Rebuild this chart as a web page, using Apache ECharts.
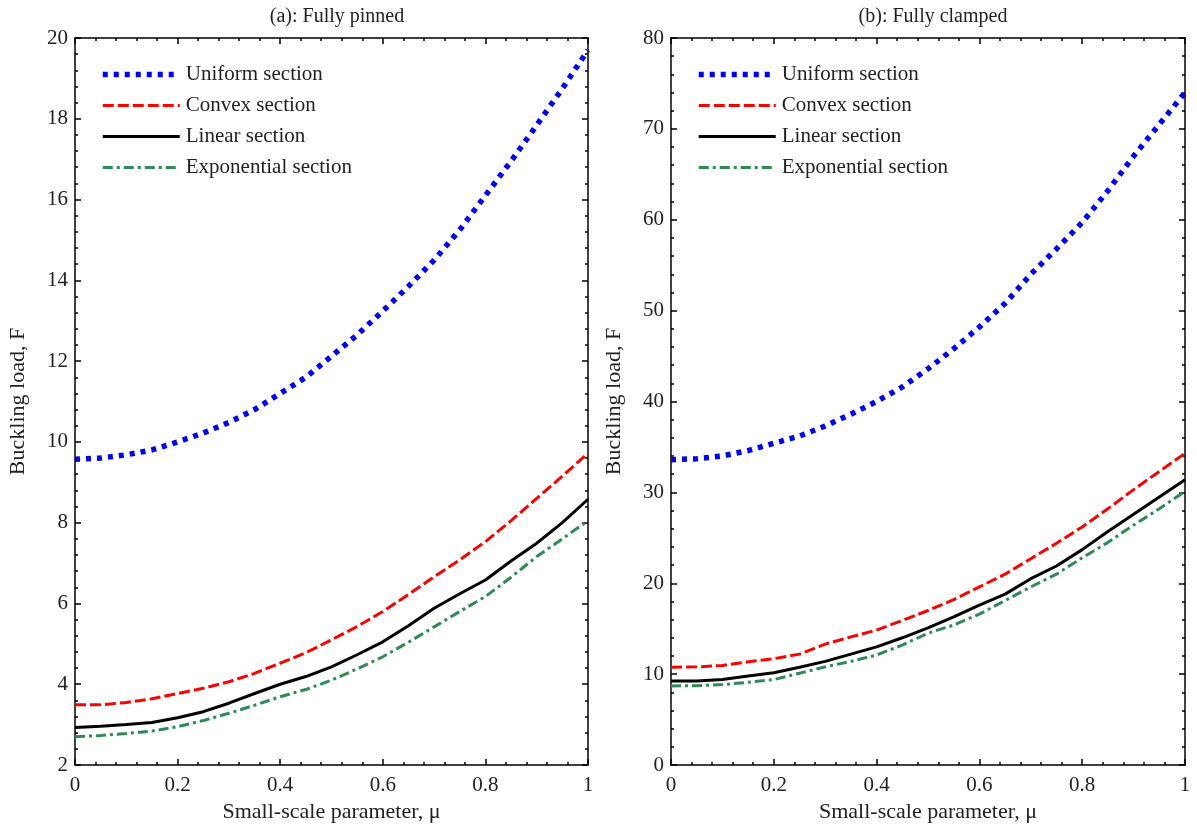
<!DOCTYPE html>
<html>
<head>
<meta charset="utf-8">
<script src="https://cdn.jsdelivr.net/npm/echarts@6/dist/echarts.min.js"></script>
<style>html,body{margin:0;padding:0;background:#fff}#c{width:1197px;height:832px}</style>
</head>
<body>
<div id="c"></div>
<script>
const mu = [0,0.05,0.1,0.15,0.2,0.25,0.3,0.35,0.4,0.45,0.5,0.55,0.6,0.65,0.7,0.75,0.8,0.85,0.9,0.95,1.0];
const seriesNames = ['Uniform section','Convex section','Linear section','Exponential section'];
// (a) Fully pinned
const pinnedUniform = [9.57,9.6,9.68,9.8,10.0,10.22,10.48,10.8,11.2,11.6,12.12,12.65,13.24,13.85,14.5,15.25,16.1,16.95,17.84,18.75,19.7];
const pinnedConvex = [3.49,3.49,3.55,3.64,3.77,3.9,4.06,4.27,4.52,4.78,5.1,5.43,5.8,6.22,6.66,7.08,7.53,8.05,8.6,9.15,9.72];
const pinnedLinear = [2.93,2.96,3.0,3.05,3.17,3.32,3.53,3.77,4.0,4.19,4.43,4.73,5.05,5.45,5.88,6.24,6.58,7.05,7.49,8.0,8.58];
const pinnedExp = [2.7,2.73,2.78,2.84,2.95,3.1,3.28,3.48,3.69,3.87,4.1,4.38,4.68,5.04,5.42,5.8,6.17,6.65,7.16,7.6,8.05];
// (b) Fully clamped
const clampedUniform = [33.6,33.7,34.0,34.6,35.4,36.2,37.3,38.6,40.0,41.6,43.6,45.8,48.2,50.8,54.0,56.8,59.7,63.2,67.0,70.5,74.0];
const clampedConvex = [10.75,10.8,10.95,11.35,11.7,12.2,13.3,14.1,14.85,15.9,17.0,18.2,19.6,21.0,22.7,24.4,26.2,28.2,30.3,32.3,34.3];
const clampedLinear = [9.24,9.25,9.4,9.8,10.15,10.75,11.4,12.2,13.0,14.0,15.1,16.3,17.6,18.8,20.5,21.9,23.7,25.7,27.6,29.5,31.4];
const clampedExp = [8.7,8.72,8.85,9.1,9.4,10.1,10.8,11.4,12.1,13.2,14.5,15.4,16.6,18.1,19.6,21.0,22.8,24.5,26.4,28.2,30.1];
const titles = ['(a): Fully pinned','(b): Fully clamped'];
const xName = 'Small-scale parameter, μ';
const yName = 'Buckling load, F';

const FONT = '"Liberation Serif","DejaVu Serif",serif';
const styles = [
  {color:'#0000ff', width:5.5, type:[5,6], cap:'butt'},
  {color:'#ff0000', width:3, type:[11,4], cap:'butt'},
  {color:'#000000', width:3, type:'solid', cap:'butt'},
  {color:'#2e8b57', width:3, type:[10,4,3,4], cap:'butt'}
];
const pairs = (ys) => mu.map((x,i)=>[x, ys[i]]);
const data = [[pinnedUniform,pinnedConvex,pinnedLinear,pinnedExp],[clampedUniform,clampedConvex,clampedLinear,clampedExp]];

const grids = [
  {left:75, right:609, top:38, bottom:67},
  {left:671, right:12, top:38, bottom:67}
];
const yRanges = [{min:2,max:20,interval:2},{min:0,max:80,interval:10}];
const axisLine = {show:true, onZero:false, lineStyle:{color:'#000', width:1.5}};
const xAxes = [], yAxes = [], series = [];
grids.forEach((g,gi)=>{
  const base = {type:'value', gridIndex:gi, min:0, max:1, interval:0.2,
    axisLine, splitLine:{show:false},
    axisTick:{show:true, inside:true, length:6, lineStyle:{color:'#000', width:1.5}},
    minorTick:{show:true, splitNumber:5, length:3, lineStyle:{color:'#000', width:1.5}}};
  xAxes.push(Object.assign({}, base, {position:'bottom',
    axisLabel:{color:'#222', fontFamily:FONT, fontSize:21, margin:10},
    name:xName, nameLocation:'middle', nameGap:36,
    nameTextStyle:{color:'#222', fontFamily:FONT, fontSize:22}}));
  xAxes.push(Object.assign({}, base, {position:'top', axisLabel:{show:false}}));
  const yb = {type:'value', gridIndex:gi, min:yRanges[gi].min, max:yRanges[gi].max, interval:yRanges[gi].interval,
    axisLine, splitLine:{show:false},
    axisTick:{show:true, inside:true, length:6, lineStyle:{color:'#000', width:1.5}},
    minorTick:{show:true, splitNumber:5, length:3, lineStyle:{color:'#000', width:1.5}}};
  yAxes.push(Object.assign({}, yb, {position:'left',
    axisLabel:{color:'#222', fontFamily:FONT, fontSize:21, margin:7},
    name:yName, nameLocation:'middle', nameGap:46,
    nameTextStyle:{color:'#222', fontFamily:FONT, fontSize:22}}));
  yAxes.push(Object.assign({}, yb, {position:'right', axisLabel:{show:false}}));
  data[gi].forEach((ys,si)=>{
    series.push({type:'line', name:seriesNames[si], xAxisIndex:gi*2, yAxisIndex:gi*2,
      data:pairs(ys), showSymbol:false, symbol:'none', smooth:false,
      itemStyle:{color:styles[si].color},
      lineStyle:styles[si], z: 10-si, animation:false});
  });
});

const legendData = seriesNames.map((n,i)=>({name:n,
  itemStyle:{color:'rgba(0,0,0,0)', opacity:0, borderWidth:0},
  lineStyle:{color:styles[i].color, width:styles[i].width, type:styles[i].type, cap:'butt'}}));
const legends = [100, 696].map(l=>({left:l, top:64, padding:0, orient:'vertical', itemWidth:77, itemHeight:14, itemGap:10,
  textStyle:{color:'#222', fontFamily:FONT, fontSize:21, padding:[0,0,0,1]}, data:legendData, selectedMode:false}));

const chart = echarts.init(document.getElementById('c'), null, {renderer:'canvas'});
chart.setOption({
  animation:false,
  backgroundColor:'#fff',
  title: titles.map((t,i)=>({text:t, left: i===0?332:928, top:2, textAlign:'center',
    textStyle:{color:'#222', fontFamily:FONT, fontSize:20, fontWeight:'normal'}})),
  grid: grids,
  legend: legends,
  xAxis: xAxes,
  yAxis: yAxes,
  series: series
});
</script>
</body>
</html>
